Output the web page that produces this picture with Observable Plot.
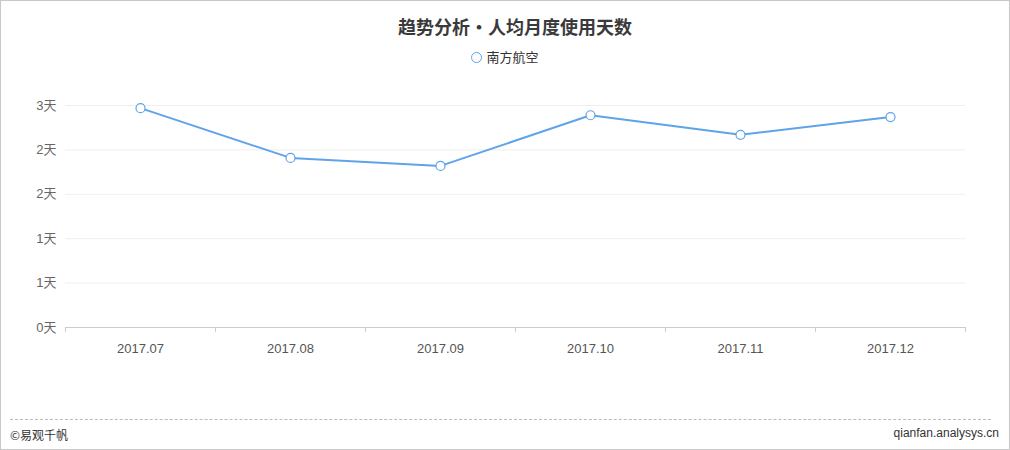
<!DOCTYPE html>
<html><head><meta charset="utf-8">
<script src="https://cdn.jsdelivr.net/npm/d3@7"></script>
<script src="https://cdn.jsdelivr.net/npm/@observablehq/plot@0.6"></script>
<style>
body{margin:0;background:#fff;font-family:"Helvetica Neue","Liberation Sans","Noto Sans CJK SC",sans-serif;}
#wrap{position:relative;width:1008px;height:448px;border:1px solid #c8c8c8;background:#fff;overflow:hidden;}
#title{position:absolute;top:12px;left:10px;width:100%;text-align:center;font-size:18px;font-weight:bold;color:#3a3a3a;font-family:"Noto Sans CJK SC",sans-serif;}
#legend{position:absolute;top:46px;left:0;width:100%;text-align:center;font-size:13px;color:#333;font-family:"Noto Sans CJK SC",sans-serif;}
#legend span.c{display:inline-block;width:9px;height:9px;border:1.5px solid #5fa3e8;border-radius:50%;vertical-align:-1px;margin-right:4px;}
#chart{position:absolute;top:90px;left:0;}
#dash{position:absolute;top:418px;left:9px;width:981px;border-top:1px dashed #bbb;}
#fl{position:absolute;top:425px;left:9px;font-size:12px;color:#333;font-family:"Noto Sans CJK SC",sans-serif;}
#fr{position:absolute;top:425px;right:10px;font-size:12px;color:#333;}
</style></head>
<body>
<div id="wrap">
<div id="title">趋势分析•人均月度使用天数</div>
<div id="legend"><span class="c"></span>南方航空</div>
<div id="chart"></div>
<div id="dash"></div>
<div id="fl">©易观千帆</div>
<div id="fr">qianfan.analysys.cn</div>
</div>
<script>
const months = ["2017.07","2017.08","2017.09","2017.10","2017.11","2017.12"];
const values = [2.47, 1.91, 1.82, 2.39, 2.17, 2.37];
const yTicks = [0, 0.5, 1, 1.5, 2, 2.5];
const seriesName = "南方航空";

const data = months.map((m, i) => ({month: m, value: values[i], series: seriesName}));
const blue = "#5fa3e8";

const chart = Plot.plot({
  width: 1008,
  height: 280,
  marginLeft: 64,
  marginRight: 44,
  marginTop: 14,
  marginBottom: 44,
  style: {fontFamily: '"Helvetica Neue","Liberation Sans","Noto Sans CJK SC",sans-serif', fontSize: "13px", color: "#666", background: "transparent"},
  x: {type: "point", domain: months, padding: 0.5, label: null},
  y: {domain: [0, 2.5], label: null},
  marks: [
    Plot.gridY(yTicks, {stroke: "#eeeeee", strokeOpacity: 1}),
    Plot.ruleY([0], {stroke: "#cccccc"}),
    Plot.axisY(yTicks, {tickSize: 0, tickPadding: 9, tickFormat: d => Math.round(d) + "天", label: null, fill: "#666"}),
    Plot.axisX({tickSize: 0, tickPadding: 16, label: null, fill: "#555"}),
    Plot.axisX({tickSize: 5, dx: -75, text: null, stroke: "#cccccc", label: null}),
    Plot.axisX([months[months.length - 1]], {tickSize: 5, dx: 75, text: null, stroke: "#cccccc", label: null}),
    Plot.line(data, {x: "month", y: "value", stroke: blue, strokeWidth: 2}),
    Plot.dot(data, {x: "month", y: "value", r: 4.5, fill: "white", stroke: blue, strokeWidth: 1.2})
  ]
});
document.getElementById("chart").appendChild(chart);
</script>
</body></html>
